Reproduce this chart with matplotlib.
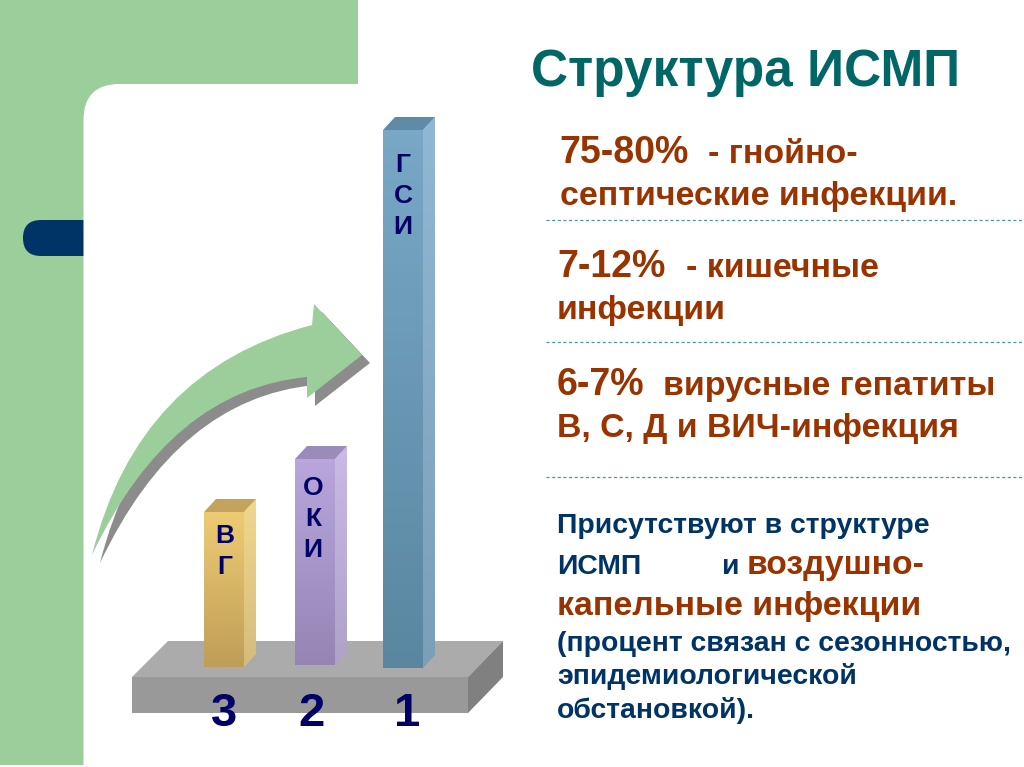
import numpy as np
import matplotlib
matplotlib.use('Agg')
import matplotlib.pyplot as plt
from matplotlib.patches import Rectangle, Polygon, FancyBboxPatch, PathPatch
from matplotlib.path import Path
from matplotlib.colors import LinearSegmentedColormap

plt.rcParams['font.family'] = ['Liberation Sans', 'DejaVu Sans']

# data
bar_names = [['В', 'Г'], ['О', 'К', 'И'], ['Г', 'С', 'И']]
bar_ranks = ['3', '2', '1']
bar_lefts = [204, 295, 383]
bar_heights = [155, 206, 538]
bar_bottoms = [667, 665, 668]

bar_top_colors = ['#EDCB74', '#B8A6DC', '#78A8C6']
bar_low_colors = ['#BF9E58', '#9585B4', '#5A86A0']
side_top_colors = ['#F0D78C', '#C9BAE6', '#8FB8D2']
side_low_colors = ['#D6BC7C', '#AEA2C8', '#7C9FB8']
bar_cap_colors = ['#C4A45C', '#9A8CBA', '#5F8AA8']

# label layout
label_x = [225, 313, 403]
label_y = [543, 495, 172]
rank_x = [224, 312, 407]

title = 'Структура ИСМП'
title_color = '#006666'
brown = '#993300'
navy = '#003366'

W, H = 1024, 767
BAR_W, DX, DY = 40, 12, 13

fig = plt.figure(figsize=(W / 100, H / 100), dpi=100)
ax = fig.add_axes([0, 0, 1, 1])
ax.set_xlim(0, W)
ax.set_ylim(H, 0)
ax.axis('off')

# background
green = '#9CCE9C'
ax.add_patch(Rectangle((0, 0), 358, 84, fc=green, ec='none', zorder=1))
ax.add_patch(Rectangle((0, 0), 83.5, H, fc=green, ec='none', zorder=1))
ax.add_patch(Rectangle((80, 80), 50, 50, fc=green, ec='none', zorder=1))
ax.add_patch(FancyBboxPatch((23, 220), 100, 36, boxstyle='round,pad=0,rounding_size=18',
                            fc='#003366', ec='none', zorder=2))
ax.add_patch(FancyBboxPatch((83.5, 84), 1200, 900, boxstyle='round,pad=0,rounding_size=36',
                            fc='white', ec='none', zorder=3))
ax.add_patch(Rectangle((0, 765), W, 2, fc='white', ec='none', zorder=3))

# platform
ax.add_patch(Polygon([(132, 677), (168, 641), (503, 641), (468, 677)], fc='#ABABAB', ec='none', zorder=4))
ax.add_patch(Rectangle((132, 677), 336, 36, fc='#999999', ec='none', zorder=4))
ax.add_patch(Polygon([(468, 677), (503, 641), (503, 677), (468, 713)], fc='#808080', ec='none', zorder=4))


# curved arrow
def arrow_path(dx=0, dy=0):
    verts = [(92, 555), (138, 370), (312, 325), (314, 304), (362, 355), (307, 398), (307, 377),
             (170, 390), (92, 555), (92, 555)]
    codes = [Path.MOVETO, Path.CURVE3, Path.CURVE3, Path.LINETO, Path.LINETO, Path.LINETO,
             Path.LINETO, Path.CURVE3, Path.CURVE3, Path.CLOSEPOLY]
    return Path([(x + dx, y + dy) for x, y in verts], codes)


ax.add_patch(PathPatch(arrow_path(8, 8), fc='#8C8C8C', ec='none', zorder=5))
ax.add_patch(PathPatch(arrow_path(), fc=green, ec='none', zorder=6))


def gradient(patch, c1, c2, x0, x1, top, bottom):
    cmap = LinearSegmentedColormap.from_list('g', [c1, c2])
    im = ax.imshow(np.linspace(0, 1, 64).reshape(-1, 1), extent=(x0, x1, bottom, top),
                   cmap=cmap, aspect='auto', zorder=7)
    im.set_clip_path(patch)


# bars
for i in range(3):
    x0, h, b = bar_lefts[i], bar_heights[i], bar_bottoms[i]
    top = b - h
    bar = ax.bar(x0, -h, BAR_W, bottom=b, align='edge', color='none', zorder=7)[0]
    gradient(bar, bar_top_colors[i], bar_low_colors[i], x0, x0 + BAR_W, top, b)
    side = Polygon([(x0 + BAR_W, top), (x0 + BAR_W + DX, top - DY), (x0 + BAR_W + DX, b - DY), (x0 + BAR_W, b)],
                   fc='none', ec='none', zorder=7)
    ax.add_patch(side)
    gradient(side, side_top_colors[i], side_low_colors[i], x0 + BAR_W, x0 + BAR_W + DX, top - DY, b)
    ax.add_patch(Polygon([(x0, top), (x0 + DX, top - DY), (x0 + BAR_W + DX, top - DY), (x0 + BAR_W, top)],
                         fc=bar_cap_colors[i], ec='none', zorder=7))
    for k, letter in enumerate(bar_names[i]):
        ax.text(label_x[i], label_y[i] + k * 31, letter, color='#000066', fontsize=19, fontweight='bold',
                ha='center', va='baseline', zorder=8)
    ax.text(rank_x[i], 726, bar_ranks[i], color='#000066', fontsize=34, fontweight='bold', ha='center',
            va='baseline', zorder=8)
ax.set_xlim(0, W)
ax.set_ylim(H, 0)

# title and right hand text
ax.text(531, 86, title, color=title_color, fontsize=37, fontweight='bold', zorder=8)

ax.text(559, 163, '75-80%', color=brown, fontsize=27, fontweight='bold', zorder=8)
ax.text(708, 163, '- гнойно-', color=brown, fontsize=24.4, fontweight='bold', zorder=8)
ax.text(560, 205, 'септические инфекции.', color=brown, fontsize=24.4, fontweight='bold', zorder=8)
ax.text(557, 277, '7-12%', color=brown, fontsize=27, fontweight='bold', zorder=8)
ax.text(686, 277, '- кишечные', color=brown, fontsize=24.4, fontweight='bold', zorder=8)
ax.text(557, 319, 'инфекции', color=brown, fontsize=24.4, fontweight='bold', zorder=8)
ax.text(557, 395, '6-7%', color=brown, fontsize=27, fontweight='bold', zorder=8)
ax.text(663, 395, 'вирусные гепатиты', color=brown, fontsize=24.4, fontweight='bold', zorder=8)
ax.text(557, 437, 'В, С, Д и ВИЧ-инфекция', color=brown, fontsize=24.4, fontweight='bold', zorder=8)

ax.text(557, 533, 'Присутствуют в структуре', color=navy, fontsize=20.4, fontweight='bold', zorder=8)
ax.text(557, 574, 'ИСМП', color=navy, fontsize=20.4, fontweight='bold', zorder=8)
ax.text(722, 574, 'и', color=navy, fontsize=20.4, fontweight='bold', zorder=8)
ax.text(747, 574, 'воздушно-', color=brown, fontsize=24.2, fontweight='bold', zorder=8)
ax.text(557, 615, 'капельные инфекции', color=brown, fontsize=24.4, fontweight='bold', zorder=8)
ax.text(557, 651, '(процент связан с сезонностью,', color=navy, fontsize=20.4, fontweight='bold', zorder=8)
ax.text(557, 684, 'эпидемиологической', color=navy, fontsize=20.4, fontweight='bold', zorder=8)
ax.text(557, 718, 'обстановкой).', color=navy, fontsize=20.4, fontweight='bold', zorder=8)

# dashed separators
for y in [220, 342, 477]:
    ax.plot([546, 1030], [y, y], color='#4D9999', lw=0.9, dashes=(2.5, 2), zorder=8)

fig.savefig('out.png', dpi=100)
